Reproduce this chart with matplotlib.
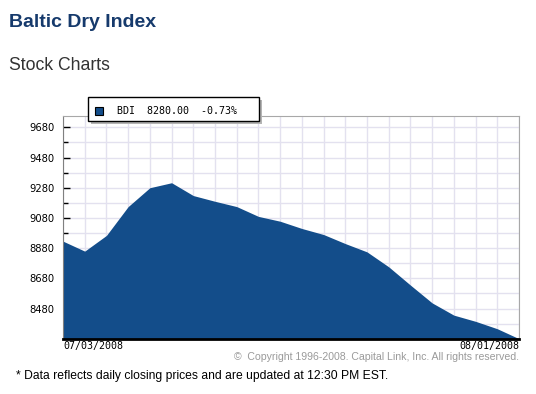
import matplotlib

matplotlib.use("Agg")
import matplotlib.pyplot as plt
import numpy as np
import pandas as pd
from matplotlib.patches import Rectangle
from matplotlib.ticker import FixedLocator

W, H = 536, 394

# BDI closes, 07/03/2008 .. 08/01/2008
dates = pd.bdate_range("2008-07-03", "2008-08-01")
bdi = [8926, 8860, 8964, 9155, 9280, 9313, 9228, 9190, 9155, 9090, 9058,
       9010, 8970, 8910, 8855, 8756, 8635, 8517, 8436, 8395, 8346, 8280]
major_ticks = [8480, 8680, 8880, 9080, 9280, 9480, 9680]
minor_ticks = [8380, 8580, 8780, 8980, 9180, 9380, 9580]
y_range = (8280, 9755)
last_close = 8280.00
pct_change = -0.73

FILL = "#134d8a"
GRID = "#e3e1ef"
SANS = ["Liberation Sans", "DejaVu Sans"]
MONO = "DejaVu Sans Mono"


def fx(x):
    return x / W


def fy(y):
    return 1 - y / H


fig = plt.figure(figsize=(W / 100, H / 100), dpi=100)
ax = fig.add_axes([fx(63), fy(338.7), (519 - 63) / W, (338.7 - 116) / H])

x = np.arange(len(bdi))
ax.fill_between(x, bdi, y_range[0], color=FILL, linewidth=0, zorder=2)
ax.set_xlim(0, len(bdi) - 1)
ax.set_ylim(*y_range)

ax.set_axisbelow(True)
ax.xaxis.set_major_locator(FixedLocator(x))
ax.yaxis.set_major_locator(FixedLocator(major_ticks))
ax.yaxis.set_minor_locator(FixedLocator(minor_ticks))
ax.grid(True, which="both", color=GRID, linewidth=1)
ax.tick_params(axis="x", length=0, labelbottom=False)
ax.tick_params(axis="y", which="major", direction="in", length=5, width=1,
               labelsize=7.2, pad=6)
ax.tick_params(axis="y", which="minor", direction="in", length=3.5, width=1)

ax.spines["left"].set_color("#808080")
ax.spines["top"].set_color("#a8a8a8")
ax.spines["right"].set_color("#a8a8a8")
ax.spines["bottom"].set_color("black")
ax.spines["bottom"].set_linewidth(2)

# first / last date under the axis
ax.annotate(dates[0].strftime("%m/%d/%Y"), xy=(x[0], 0),
            xycoords=("data", "axes fraction"), xytext=(0, -1.5),
            textcoords="offset points", ha="left", va="top",
            family=MONO, fontsize=7.2)
ax.annotate(dates[-1].strftime("%m/%d/%Y"), xy=(x[-1], 0),
            xycoords=("data", "axes fraction"), xytext=(0, -1.5),
            textcoords="offset points", ha="right", va="top",
            family=MONO, fontsize=7.2)

# legend box with drop shadow
shadow = Rectangle((fx(91), fy(124)), 171 / W, 24 / H, transform=fig.transFigure,
                   facecolor="#b4b4b4", edgecolor="none", zorder=5)
box = Rectangle((fx(88), fy(121)), 171 / W, 24 / H, transform=fig.transFigure,
                facecolor="white", edgecolor="black", linewidth=1, zorder=6)
swatch = Rectangle((fx(95), fy(114.5)), 8 / W, 8 / H, transform=fig.transFigure,
                   facecolor=FILL, edgecolor="black", linewidth=0.8, zorder=7)
for p in (shadow, box, swatch):
    fig.add_artist(p)
fig.text(fx(117), fy(110.5), f"BDI  {last_close:.2f}  {pct_change:.2f}%",
         family=MONO, fontsize=7.2, va="center", ha="left", zorder=8)

fig.text(fx(9), fy(27), "Baltic Dry Index", family=SANS, fontsize=14,
         weight="bold", color="#163a6c", va="baseline")
fig.text(fx(9), fy(70), "Stock Charts", family=SANS, fontsize=12.7,
         color="#333333", va="baseline")
fig.text(fx(519), fy(357.5),
         "\u00a9  Copyright 1996-2008. Capital Link, Inc. All rights reserved.",
         family=SANS, fontsize=7.6, color="#9a9a9a", ha="right", va="center")
fig.text(fx(16), fy(375.5),
         "* Data reflects daily closing prices and are updated at 12:30 PM EST.",
         family=SANS, fontsize=8.75, color="black", ha="left", va="center")

fig.savefig("out.png", dpi=100)
